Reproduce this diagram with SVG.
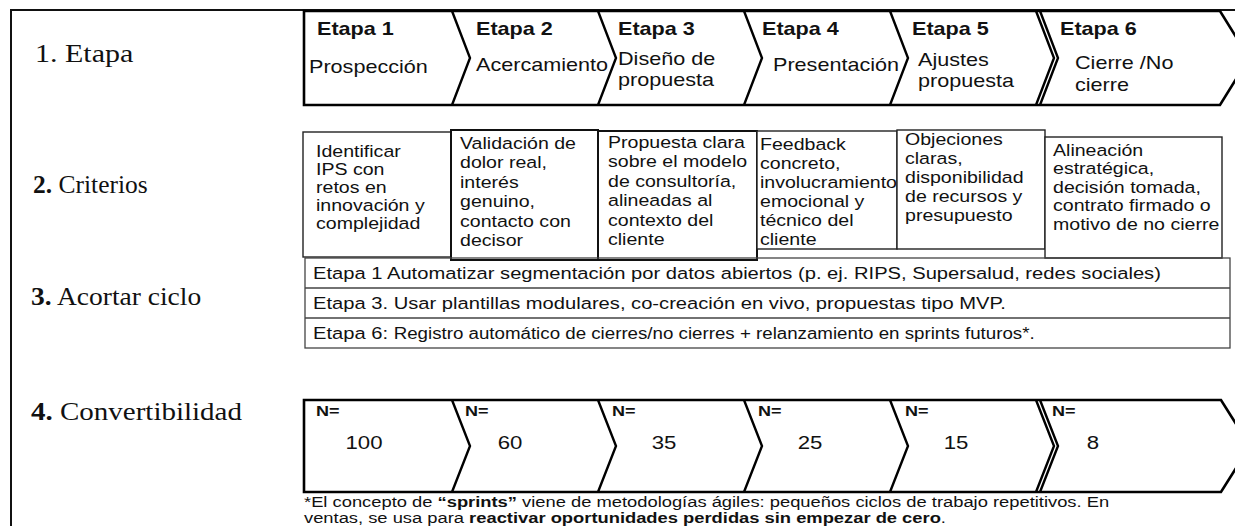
<svg xmlns="http://www.w3.org/2000/svg" width="1235" height="526" viewBox="0 0 1235 526">
<style>
  .s{font-family:"Liberation Sans",Arial,sans-serif;fill:#111}
  .hd{font-weight:bold;font-size:18px}
  .tp{font-size:18px}
  .cr{font-size:16.3px}
  .ac{font-size:16.8px}
  .sm{font-size:15.6px}
  .nq{font-weight:bold;font-size:15px}
  .num{font-size:18.5px;text-anchor:middle}
  .fn{font-size:15.3px}
  .lbl{font-family:"Liberation Serif","Times New Roman",serif;font-size:25px;fill:#111}
  .chev{fill:#fff;stroke:#000;stroke-width:2.6;stroke-linejoin:miter}
  .div{fill:none;stroke:#000;stroke-width:2.4}
  .box{fill:#fff;stroke:#222;stroke-width:1.4}
  .boxb{fill:#fff;stroke:#111;stroke-width:2}
  .row{fill:none;stroke:#444;stroke-width:1.3}
  .frame{fill:none;stroke:#111;stroke-width:2}
</style>

<rect width="1235" height="526" fill="#fff"/>
<path class="frame" d="M11,526 V10 H1235"/>

<!-- Row labels -->
<g id="labels">
  <text class="lbl" transform="translate(35,62) scale(1.2,1)">1. Etapa</text>
  <text class="lbl" transform="translate(33,193) scale(1.02,1)"><tspan font-weight="bold">2.</tspan> Criterios</text>
  <text class="lbl" transform="translate(31,305) scale(1.1,1)"><tspan font-weight="bold">3.</tspan> Acortar ciclo</text>
  <text class="lbl" transform="translate(31,420) scale(1.16,1)"><tspan font-weight="bold">4.</tspan> Convertibilidad</text>
</g>

<!-- Row 1: Etapas chevron band -->
<g id="etapas">
  <path class="chev" d="M304,11 H1220 L1249,58 L1220,105 H304 Z"/>
  <path class="div" d="M452,11 L470,58 L452,105 M598,11 L616,58 L598,105 M744,11 L762,58 L744,105 M890,11 L908,58 L890,105 M1036,11 L1054,58 L1036,105 M1040,11 L1058,58 L1040,105"/>
  <g class="s">
    <text class="hd" transform="translate(317,35) scale(1.2,1)">Etapa 1</text>
    <text class="tp" transform="translate(309,73) scale(1.2,1)">Prospección</text>
    <text class="hd" transform="translate(476,35) scale(1.2,1)">Etapa 2</text>
    <text class="tp" transform="translate(476,71) scale(1.2,1)">Acercamiento</text>
    <text class="hd" transform="translate(618,35) scale(1.2,1)">Etapa 3</text>
    <text class="tp" transform="translate(618,65) scale(1.2,1)">Diseño de<tspan x="0" dy="21">propuesta</tspan></text>
    <text class="hd" transform="translate(762,35) scale(1.2,1)">Etapa 4</text>
    <text class="tp" transform="translate(773,71) scale(1.2,1)">Presentación</text>
    <text class="hd" transform="translate(912,35) scale(1.2,1)">Etapa 5</text>
    <text class="tp" transform="translate(918,66) scale(1.2,1)">Ajustes<tspan x="0" dy="21">propuesta</tspan></text>
    <text class="hd" transform="translate(1060,35) scale(1.2,1)">Etapa 6</text>
    <text class="tp" transform="translate(1075,69) scale(1.2,1)">Cierre /No<tspan x="0" dy="22">cierre</tspan></text>
  </g>
</g>

<!-- Row 2: Criterios -->
<g id="criterio-1">
  <rect class="box" x="303" y="132" width="148" height="125"/>
  <text class="s cr" transform="translate(316,157) scale(1.2,1)">Identificar<tspan x="0" dy="18">IPS con</tspan><tspan x="0" dy="18">retos en</tspan><tspan x="0" dy="18">innovación y</tspan><tspan x="0" dy="18">complejidad</tspan></text>
</g>
<g id="criterio-2">
  <rect class="boxb" x="451" y="130" width="147" height="130"/>
  <text class="s cr" transform="translate(460,149) scale(1.2,1)">Validación de<tspan x="0" dy="19.5">dolor real,</tspan><tspan x="0" dy="19.5">interés</tspan><tspan x="0" dy="19.5">genuino,</tspan><tspan x="0" dy="19.5">contacto con</tspan><tspan x="0" dy="19.5">decisor</tspan></text>
</g>
<g id="criterio-3">
  <rect class="boxb" x="598" y="131" width="159" height="129"/>
  <text class="s cr" transform="translate(608,148) scale(1.2,1)">Propuesta clara<tspan x="0" dy="19.5">sobre el modelo</tspan><tspan x="0" dy="19.5">de consultoría,</tspan><tspan x="0" dy="19.5">alineadas al</tspan><tspan x="0" dy="19.5">contexto del</tspan><tspan x="0" dy="19.5">cliente</tspan></text>
</g>
<g id="criterio-4">
  <rect class="box" x="757" y="131" width="140" height="118"/>
  <text class="s cr" transform="translate(760,150) scale(1.2,1)">Feedback<tspan x="0" dy="19">concreto,</tspan><tspan x="0" dy="19">involucramiento</tspan><tspan x="0" dy="19">emocional y</tspan><tspan x="0" dy="19">técnico del</tspan><tspan x="0" dy="19">cliente</tspan></text>
</g>
<g id="criterio-5">
  <rect class="box" x="897" y="130" width="148" height="119"/>
  <text class="s cr" transform="translate(905,145) scale(1.2,1)">Objeciones<tspan x="0" dy="19">claras,</tspan><tspan x="0" dy="19">disponibilidad</tspan><tspan x="0" dy="19">de recursos y</tspan><tspan x="0" dy="19">presupuesto</tspan></text>
</g>
<g id="criterio-6">
  <rect class="box" x="1045" y="137" width="177" height="121"/>
  <text class="s cr" transform="translate(1053,156) scale(1.2,1)">Alineación<tspan x="0" dy="18.5">estratégica,</tspan><tspan x="0" dy="18.5">decisión tomada,</tspan><tspan x="0" dy="18.5">contrato firmado o</tspan><tspan x="0" dy="18.5">motivo de no cierre</tspan></text>
</g>

<!-- Row 3: Acortar ciclo -->
<g id="acortar">
  <rect class="row" x="305" y="258" width="925" height="90"/>
  <path class="row" d="M305,288 H1230 M305,318 H1230"/>
  <text class="s ac" transform="translate(313,279) scale(1.2,1)">Etapa 1 Automatizar segmentación por datos abiertos (p. ej. RIPS, Supersalud, redes sociales)</text>
  <text class="s ac" transform="translate(313,309) scale(1.2,1)">Etapa 3. Usar plantillas modulares, co-creación en vivo, propuestas tipo MVP.</text>
  <text class="s ac" transform="translate(313,339) scale(1.2,1)">Etapa 6: <tspan class="sm">Registro automático de cierres/no cierres + relanzamiento en sprints futuros*.</tspan></text>
</g>

<!-- Row 4: Convertibilidad -->
<g id="convertibilidad">
  <path class="chev" d="M304,400 H1221 L1250,446 L1221,492 H304 Z"/>
  <path class="div" d="M452,400 L470,446 L452,492 M598,400 L616,446 L598,492 M744,400 L762,446 L744,492 M890,400 L908,446 L890,492 M1036,400 L1054,446 L1036,492 M1040,400 L1058,446 L1040,492"/>
  <g class="s">
    <text class="nq" transform="translate(316,416) scale(1.2,1)">N=</text>
    <text class="nq" transform="translate(465,416) scale(1.2,1)">N=</text>
    <text class="nq" transform="translate(612,416) scale(1.2,1)">N=</text>
    <text class="nq" transform="translate(758,416) scale(1.2,1)">N=</text>
    <text class="nq" transform="translate(905,416) scale(1.2,1)">N=</text>
    <text class="nq" transform="translate(1052,416) scale(1.2,1)">N=</text>
    <text class="num" transform="translate(364,449) scale(1.2,1)">100</text>
    <text class="num" transform="translate(510,449) scale(1.2,1)">60</text>
    <text class="num" transform="translate(664,449) scale(1.2,1)">35</text>
    <text class="num" transform="translate(810,449) scale(1.2,1)">25</text>
    <text class="num" transform="translate(956,449) scale(1.2,1)">15</text>
    <text class="num" transform="translate(1093,449) scale(1.2,1)">8</text>
  </g>
</g>

<!-- Footnote -->
<g id="footnote" class="s">
  <text class="fn" transform="translate(304,507) scale(1.2,1)">*El concepto de <tspan font-weight="bold">“sprints”</tspan> viene de metodologías ágiles: pequeños ciclos de trabajo repetitivos. En</text>
  <text class="fn" transform="translate(304,523) scale(1.2,1)">ventas, se usa para <tspan font-weight="bold">reactivar oportunidades perdidas sin empezar de cero</tspan>.</text>
</g>
</svg>
